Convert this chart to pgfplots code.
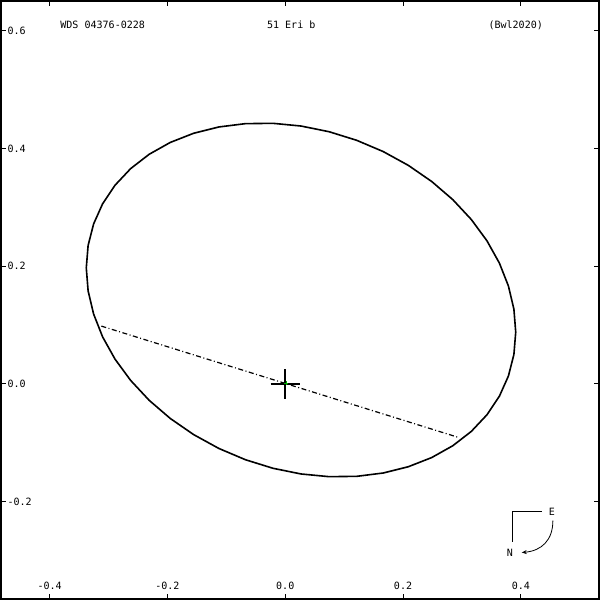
\documentclass[border=0pt]{standalone}
\usepackage{fontspec}
\setmonofont{DejaVu Sans Mono}
\usepackage{pgfplots}
\pgfplotsset{compat=1.18}
\usetikzlibrary{arrows.meta}
\newcommand{\lbl}[1]{\texttt{#1}}
\newcommand{\mf}{\ttfamily\fontsize{10}{12}\selectfont}
\begin{document}
\begin{tikzpicture}
\begin{axis}[
  scale only axis, width=596pt, height=596pt,
  xmin=-0.4826, xmax=0.5327, ymin=-0.3651, ymax=0.6503,
  axis line style={line width=2pt},
  tick align=inside, tick pos=both, xticklabel pos=lower, yticklabel pos=left,
  major tick length=5pt,
  every tick/.style={black, line width=1pt},
  xtick={-0.4,-0.2,0,0.2,0.4},
  xticklabels={\lbl{-0.4},\lbl{-0.2},\lbl{0.0},\lbl{0.2},\lbl{0.4}},
  ytick={-0.2,0,0.2,0.4,0.6},
  yticklabels={\lbl{-0.2},\lbl{0.0},\lbl{0.2},\lbl{0.4},\lbl{0.6}},
  xticklabel style={anchor=south, yshift=6pt, font=\mf},
  yticklabel style={anchor=west, xshift=3pt, font=\mf},
  clip=false,
]
% orbit ellipse
\addplot[black, line width=1.6pt, mark=none, line join=round] coordinates {
(0.39132,0.08808) (0.38820,0.04999) (0.37889,0.01349) (0.36357,-0.02081)
(0.34247,-0.05232) (0.31598,-0.08049) (0.28454,-0.10483) (0.24869,-0.12495)
(0.20904,-0.14049) (0.16626,-0.15119) (0.12110,-0.15685) (0.07434,-0.15740)
(0.02675,-0.15281) (-0.02084,-0.14316) (-0.06760,-0.12863) (-0.11276,-0.10947)
(-0.15554,-0.08597) (-0.19519,-0.05859) (-0.23104,-0.02775) (-0.26248,0.00601)
(-0.28897,0.04210) (-0.31007,0.07991) (-0.32539,0.11879) (-0.33470,0.15807)
(-0.33782,0.19710) (-0.33470,0.23519) (-0.32539,0.27169) (-0.31007,0.30599)
(-0.28897,0.33750) (-0.26248,0.36567) (-0.23104,0.39001) (-0.19519,0.41013)
(-0.15554,0.42567) (-0.11276,0.43637) (-0.06760,0.44203) (-0.02084,0.44258)
(0.02675,0.43799) (0.07434,0.42834) (0.12110,0.41381) (0.16626,0.39465)
(0.20904,0.37115) (0.24869,0.34377) (0.28454,0.31293) (0.31598,0.27917)
(0.34247,0.24308) (0.36357,0.20527) (0.37889,0.16639) (0.38820,0.12711)
(0.39132,0.08808)
};
% line of nodes
\addplot[black, line width=1.2pt, dash pattern=on 5pt off 2.5pt on 1pt off 2.5pt, mark=none]
  coordinates {(-0.3123,0.0983) (0.2942,-0.0908)};
% primary cross
\addplot[black, line width=2pt, mark=none] coordinates {(-0.025,0) (0.025,0)};
\addplot[black, line width=2pt, mark=none] coordinates {(0,-0.025) (0,0.025)};
\addplot[only marks, mark=+, mark size=2pt, green!70!black, line width=0.8pt] coordinates {(0.002,0.001)};
% titles
\node[anchor=base west, inner sep=0pt, font=\mf] at (axis cs:-0.3821,0.6043) {WDS 04376-0228};
\node[anchor=base west, inner sep=0pt, font=\mf] at (axis cs:-0.0312,0.6043) {51 Eri b};
\node[anchor=base west, inner sep=0pt, font=\mf] at (axis cs:0.3448,0.6043) {(Bwl2020)};
% compass
\draw[black, line width=0.8pt] (axis cs:0.4356,-0.2157) -- (axis cs:0.3857,-0.2157) -- (axis cs:0.3857,-0.2680);
\node[inner sep=0pt, font=\mf] at (axis cs:0.4526,-0.2164) {E};
\node[inner sep=0pt, font=\mf] at (axis cs:0.3816,-0.2862) {N};
\draw[black, line width=0.8pt, -{Stealth[length=5pt, width=4pt, open]}] (axis cs:0.4544,-0.2322) .. controls (axis cs:0.4544,-0.2650) and (axis cs:0.4356,-0.2833) .. (axis cs:0.4015,-0.2862);
\end{axis}
\end{tikzpicture}
\end{document}
